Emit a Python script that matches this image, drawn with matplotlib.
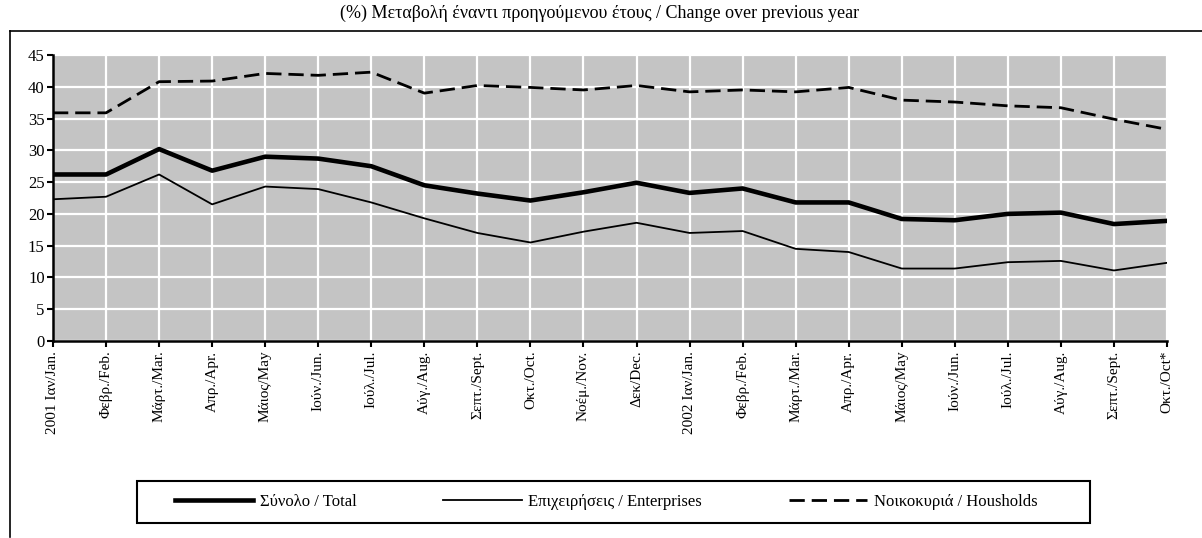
import matplotlib
matplotlib.use("Agg")
import matplotlib.pyplot as plt
from matplotlib.lines import Line2D
from matplotlib.patches import Rectangle

plt.rcParams['font.family'] = ['Liberation Serif', 'DejaVu Serif']
plt.rcParams['lines.scale_dashes'] = False

months = ["2001 Ιαν/Jan.", "Φεβρ./Feb.", "Μάρτ./Mar.", "Απρ./Apr.", "Μάιος/May",
          "Ιούν./Jun.", "Ιούλ./Jul.", "Αύγ./Aug.", "Σεπτ./Sept.", "Οκτ./Oct.",
          "Νοέμ./Nov.", "Δεκ/Dec.", "2002 Ιαν/Jan.", "Φεβρ./Feb.", "Μάρτ./Mar.",
          "Απρ./Apr.", "Μάιος/May", "Ιούν./Jun.", "Ιούλ./Jul.", "Αύγ./Aug.",
          "Σεπτ./Sept.", "Οκτ./Oct*"]

total = [26.2, 26.2, 30.2, 26.8, 29.0, 28.7, 27.5, 24.5, 23.2, 22.1, 23.4,
         24.9, 23.3, 24.0, 21.8, 21.8, 19.2, 19.0, 20.0, 20.2, 18.4, 18.9]
enterprises = [22.3, 22.7, 26.2, 21.5, 24.3, 23.9, 21.8, 19.3, 17.0, 15.5, 17.2,
               18.6, 17.0, 17.3, 14.5, 14.0, 11.4, 11.4, 12.4, 12.6, 11.1, 12.3]
households = [35.9, 35.9, 40.8, 40.9, 42.1, 41.8, 42.3, 39.0, 40.2, 39.9, 39.5,
              40.2, 39.2, 39.5, 39.2, 39.9, 37.9, 37.6, 37.0, 36.7, 34.9, 33.3]

title = "(%) Μεταβολή έναντι προηγούμενου έτους / Change over previous year"
legend_labels = ["Σύνολο / Total", "Επιχειρήσεις / Enterprises", "Νοικοκυριά / Housholds"]

fig = plt.figure(figsize=(12.02, 5.38), dpi=100)
ax = fig.add_axes([53/1202, 1-341/538, (1167-53)/1202, (341-55)/538])

x = list(range(len(months)))
ax.set_facecolor('#c4c4c4')
l1, = ax.plot(x, total, color='black', lw=3.3, zorder=3)
l2, = ax.plot(x, enterprises, color='black', lw=1.3, zorder=3)
l3, = ax.plot(x, households, color='black', lw=2.0, dashes=(11, 5), zorder=3)

ax.set_xlim(0, len(months)-1)
ax.set_ylim(0, 45)
ax.set_yticks(range(0, 50, 5))
ax.set_xticks(x)
ax.set_xticklabels(months, rotation=90, fontsize=11)
ax.tick_params(axis='y', labelsize=12, length=4, width=1.5, direction='out', pad=2)
ax.tick_params(axis='x', length=4, width=1.5, direction='out', pad=3)
ax.grid(True, color='white', lw=1.6)
ax.set_axisbelow(True)
for s in ['top', 'right']:
    ax.spines[s].set_visible(False)
for s in ['left', 'bottom']:
    ax.spines[s].set_linewidth(1.8)

fig.text(600/1202, 1-13/538, title, ha='center', va='center', fontsize=13)

# outer frame lines
fig.add_artist(Line2D([10/1202, 1], [1-31/538, 1-31/538], transform=fig.transFigure,
                      color='black', lw=1.2))
fig.add_artist(Line2D([10/1202, 10/1202], [1-31/538, 1-537/538], transform=fig.transFigure,
                      color='black', lw=1.2))

# legend box
fig.add_artist(Rectangle((137/1202, 1-523/538), (1090-137)/1202, 42/538,
                         transform=fig.transFigure, fill=False, edgecolor='black', lw=1.5))
leg = fig.legend([l1, l2, l3], legend_labels, loc='center', ncol=3,
                 bbox_to_anchor=(606/1202, 1-502/538),
                 bbox_transform=fig.transFigure, fontsize=12,
                 handlelength=4.7, frameon=False, borderaxespad=0, borderpad=0,
                 columnspacing=5.2, handletextpad=0.4)

fig.savefig('out.png', dpi=100)
